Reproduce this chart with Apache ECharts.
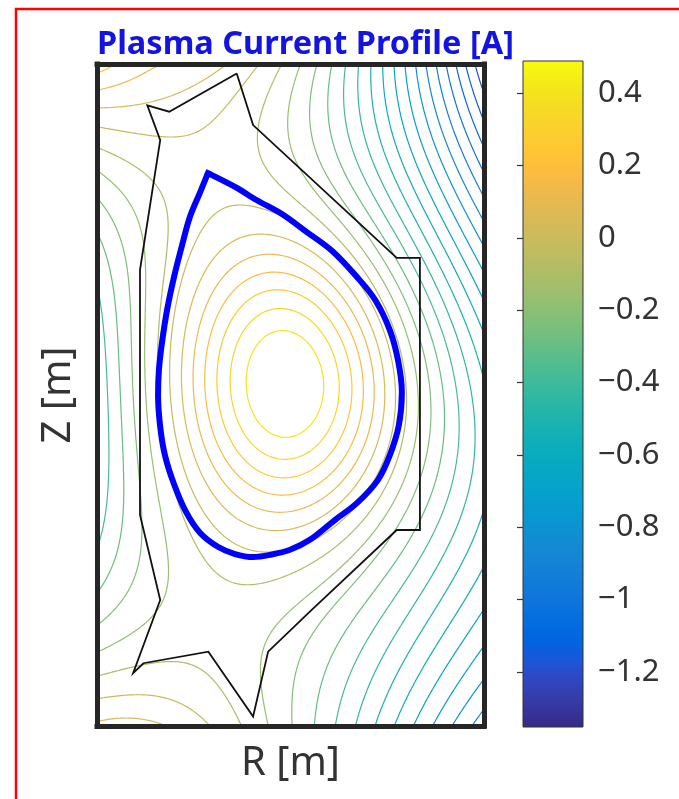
<!DOCTYPE html>
<html><head><meta charset="utf-8">
<script src="https://cdn.jsdelivr.net/npm/echarts@6/dist/echarts.min.js"></script>
<style>html,body{margin:0;padding:0;background:#fff;}#c{width:679px;height:799px;}</style>
</head><body><div id="c"></div>
<script>
// ================= values =================
const titleText = 'Plasma Current Profile [A]';
const xAxisName = 'R [m]';
const yAxisName = 'Z [m]';
const rRange = [0.1, 1.0];
const zRange = [-0.77, 0.77];
const colorbarMin = -1.352;
const colorbarMax = 0.489;
const colorbarTicks = [-1.2, -1, -0.8, -0.6, -0.4, -0.2, 0, 0.2, 0.4];
const contourLevels = [-1.28, -1.21, -1.14, -1.07, -1.00, -0.93, -0.86, -0.79, -0.72, -0.65,
  -0.58, -0.51, -0.44, -0.37, -0.30, -0.23, -0.16, -0.09, -0.02, 0.05, 0.12, 0.19, 0.26, 0.33, 0.40];

// vessel wall (black outline)
const vesselR = [0.425, 0.463, 0.797, 0.851, 0.851, 0.797, 0.595, 0.498, 0.463, 0.359, 0.208, 0.184, 0.247, 0.200, 0.200, 0.247, 0.217, 0.268, 0.425];
const vesselZ = [0.748, 0.628, 0.319, 0.319, -0.314, -0.314, -0.504, -0.597, -0.748, -0.597, -0.624, -0.647, -0.477, -0.279, 0.291, 0.593, 0.674, 0.659, 0.748];

// plasma boundary (blue)
const boundaryR = [0.358, 0.421, 0.472, 0.530, 0.588, 0.647, 0.705, 0.747, 0.781, 0.800, 0.809, 0.802, 0.781, 0.753, 0.705, 0.653, 0.595, 0.549, 0.502, 0.463, 0.421, 0.381, 0.340, 0.307, 0.279, 0.258, 0.247, 0.242, 0.244, 0.251, 0.263, 0.279, 0.298, 0.316, 0.340, 0.358];
const boundaryZ = [0.516, 0.484, 0.453, 0.421, 0.379, 0.335, 0.274, 0.221, 0.151, 0.081, 0.007, -0.070, -0.140, -0.198, -0.251, -0.291, -0.337, -0.360, -0.372, -0.377, -0.370, -0.353, -0.321, -0.272, -0.207, -0.140, -0.074, 0.000, 0.058, 0.121, 0.198, 0.274, 0.349, 0.414, 0.472, 0.516];
const boundaryValue = -0.055;

// field readings (value at points, from contour counting and colours)
const oPoint = [0.552, 0.022, 0.489];        // R, Z, value at magnetic axis
const xPoint = [0.358, 0.516];               // saddle point
const topEdgeR   = [0.305, 0.386, 0.449, 0.495, 0.542, 0.579, 0.619, 0.653, 0.684, 0.716, 0.747, 0.774, 0.800, 0.828, 0.851, 0.874, 0.898, 0.921, 0.940, 0.960, 0.979, 0.995, 1.000];
const topEdgeVal = [0.19, 0.12, 0.05, -0.02, -0.09, -0.16, -0.23, -0.30, -0.37, -0.44, -0.51, -0.58, -0.65, -0.72, -0.79, -0.86, -0.93, -1.00, -1.07, -1.14, -1.21, -1.28, -1.352];
const bottomEdgeR   = [0.177, 0.333, 0.433, 0.509, 0.579, 0.635, 0.684, 0.730, 0.774, 0.812, 0.847, 0.886, 0.921, 0.956, 0.991];
const bottomEdgeVal = [0.05, -0.02, -0.09, -0.16, -0.23, -0.30, -0.37, -0.44, -0.51, -0.58, -0.65, -0.72, -0.79, -0.86, -0.93];
const leftEdgeZ   = [0.740, 0.644, 0.570, 0.0, -0.644, -0.740];
const leftEdgeVal = [0.19, 0.12, 0.05, -0.27, -0.02, 0.05];
const midlineR   = [0.142, 0.184, 0.223, 0.281, 0.301, 0.324, 0.351, 0.386, 0.425, 0.467, 0.637, 0.672, 0.705, 0.728, 0.751, 0.770, 0.786, 0.823, 0.840, 0.905, 0.974, 1.000];
const midlineVal = [-0.23, -0.16, -0.09, -0.02, 0.05, 0.12, 0.19, 0.26, 0.33, 0.40, 0.40, 0.33, 0.26, 0.19, 0.12, 0.05, -0.02, -0.09, -0.16, -0.37, -0.58, -0.68];
const axisVerticalZ   = [0.133, -0.088];
const axisVerticalVal = [0.40, 0.40];

// model sources: external coils and plasma current region
const coilR = [0.20, 0.07];
const coilZ = [0.95, -0.80];
const plasmaCentre = [0.55, 0.03];
const plasmaHalfWidth = 0.28;
const plasmaHalfHeight = 0.42;
const plasmaPeaking = 1.6;

// ================= colormap (MATLAB parula, 64 entries) =================
const parula = [[0.2081,0.1663,0.5292],[0.2116,0.1898,0.5777],[0.2123,0.2138,0.627],[0.2081,0.2386,0.6771],[0.1959,0.2645,0.7279],[0.1707,0.2919,0.7792],[0.1253,0.3242,0.8303],[0.0591,0.3598,0.8683],[0.0117,0.3875,0.882],[0.006,0.4086,0.8828],[0.0165,0.4266,0.8786],[0.0329,0.443,0.872],[0.0498,0.4586,0.8641],[0.0629,0.4737,0.8554],[0.0723,0.4887,0.8467],[0.0779,0.504,0.8384],[0.0793,0.52,0.8312],[0.0749,0.5375,0.8263],[0.0641,0.557,0.824],[0.0488,0.5772,0.8228],[0.0343,0.5966,0.8199],[0.0265,0.6137,0.8135],[0.0239,0.6287,0.8038],[0.0231,0.6418,0.7913],[0.0228,0.6535,0.7768],[0.0267,0.6642,0.7607],[0.0384,0.6743,0.7436],[0.059,0.6838,0.7254],[0.0843,0.6928,0.7062],[0.1133,0.7015,0.6859],[0.1453,0.7098,0.6646],[0.1801,0.7177,0.6424],[0.2178,0.725,0.6193],[0.2586,0.7317,0.5954],[0.3022,0.7376,0.5712],[0.3482,0.7424,0.5473],[0.3953,0.7459,0.5244],[0.442,0.7481,0.5033],[0.4871,0.7491,0.484],[0.53,0.7491,0.4661],[0.5709,0.7485,0.4494],[0.6099,0.7473,0.4337],[0.6473,0.7456,0.4188],[0.6834,0.7435,0.4044],[0.7184,0.7411,0.3905],[0.7525,0.7384,0.3768],[0.7858,0.7356,0.3633],[0.8185,0.7327,0.3498],[0.8507,0.7299,0.336],[0.8824,0.7274,0.3217],[0.9139,0.7258,0.3063],[0.945,0.7261,0.2886],[0.9739,0.7314,0.2666],[0.9938,0.7455,0.2403],[0.999,0.7653,0.2164],[0.9955,0.7861,0.1967],[0.988,0.8066,0.1794],[0.9789,0.8271,0.1633],[0.9697,0.8481,0.1475],[0.9626,0.8705,0.1309],[0.9589,0.8949,0.1132],[0.9598,0.9218,0.0948],[0.9661,0.9514,0.0755],[0.9763,0.9831,0.0538]];
function rgb(c){return 'rgb('+Math.round(c[0]*255)+','+Math.round(c[1]*255)+','+Math.round(c[2]*255)+')';}
function colorOf(v){
  let t=(v-colorbarMin)/(colorbarMax-colorbarMin); t=Math.max(0,Math.min(1,t));
  const f=t*63, i=Math.min(62,Math.floor(f)), u=f-i, a=parula[i], b=parula[i+1];
  return rgb([a[0]+(b[0]-a[0])*u, a[1]+(b[1]-a[1])*u, a[2]+(b[2]-a[2])*u]);
}

// ================= field model fitted to the readings =================
const X0 = 0.55;
const fil = [];
(function(){
  const h=0.02;
  for(let R=plasmaCentre[0]-plasmaHalfWidth; R<=plasmaCentre[0]+plasmaHalfWidth+1e-9; R+=h)
    for(let Z=plasmaCentre[1]-plasmaHalfHeight; Z<=plasmaCentre[1]+plasmaHalfHeight+1e-9; Z+=h){
      const r2=((R-plasmaCentre[0])/plasmaHalfWidth)**2+((Z-plasmaCentre[1])/plasmaHalfHeight)**2;
      if(r2<1) fil.push([R,Z,Math.pow(1-r2,plasmaPeaking)]);
    }
  let s=0; fil.forEach(f=>s+=f[2]); fil.forEach(f=>f[2]/=s);
})();
const EPS2 = 0.0001;
const NF = fil.length, fR=new Float64Array(NF), fZ=new Float64Array(NF), fW=new Float64Array(NF);
fil.forEach((f,i)=>{fR[i]=f[0];fZ[i]=f[1];fW[i]=f[2];});
function plasmaAt(R,Z){let s=0;for(let i=0;i<NF;i++){const dr=R-fR[i],dz=Z-fZ[i];s+=fW[i]*Math.log(dr*dr+dz*dz+EPS2);}return -0.5*s;}
function coilAt(k,R,Z){const dr=R-coilR[k],dz=Z-coilZ[k];return -0.5*Math.log(dr*dr+dz*dz);}
function polyBasis(R,Z){const x=R-X0,y=Z;return [1,x,y,x*x-y*y,2*x*y,x*x*x-3*x*y*y,3*x*x*y-y*y*y];}
function basisAt(R,Z){const b=polyBasis(R,Z);b.push(plasmaAt(R,Z));for(let k=0;k<coilR.length;k++)b.push(coilAt(k,R,Z));return b;}
const NB = 7+1+coilR.length;

const rows=[], rhs=[];
function addVal(R,Z,v,w){rows.push(basisAt(R,Z).map(q=>q*w));rhs.push(v*w);}
function addGrad(R,Z,w){const h=1e-4;
  const a=basisAt(R+h,Z),b=basisAt(R-h,Z),c=basisAt(R,Z+h),d=basisAt(R,Z-h);
  rows.push(a.map((q,i)=>(q-b[i])/(2*h)*w));rhs.push(0);
  rows.push(c.map((q,i)=>(q-d[i])/(2*h)*w));rhs.push(0);}
addVal(oPoint[0],oPoint[1],oPoint[2],8); addGrad(oPoint[0],oPoint[1],2);
addVal(xPoint[0],xPoint[1],boundaryValue,4); addGrad(xPoint[0],xPoint[1],1.5);
for(let i=0;i<boundaryR.length-1;i++) addVal(boundaryR[i],boundaryZ[i],boundaryValue,2.5);
topEdgeR.forEach((r,i)=>addVal(r,zRange[1],topEdgeVal[i],1));
bottomEdgeR.forEach((r,i)=>addVal(r,zRange[0],bottomEdgeVal[i],1));
leftEdgeZ.forEach((z,i)=>addVal(rRange[0],z,leftEdgeVal[i],1));
midlineR.forEach((r,i)=>addVal(r,oPoint[1],midlineVal[i],1.5));
axisVerticalZ.forEach((z,i)=>addVal(oPoint[0],z,axisVerticalVal[i],1.5));

function solve(rows,rhs,n,ridge){
  const A=[];for(let i=0;i<n;i++)A.push(new Float64Array(n+1));
  rows.forEach((a,r)=>{for(let i=0;i<n;i++){for(let j=0;j<n;j++)A[i][j]+=a[i]*a[j];A[i][n]+=a[i]*rhs[r];}});
  for(let i=0;i<n;i++)A[i][i]+=ridge;
  for(let c=0;c<n;c++){let p=c;for(let r=c+1;r<n;r++)if(Math.abs(A[r][c])>Math.abs(A[p][c]))p=r;
    const t=A[c];A[c]=A[p];A[p]=t;
    for(let r=0;r<n;r++){if(r===c)continue;const f=A[r][c]/A[c][c];for(let k=c;k<=n;k++)A[r][k]-=f*A[c][k];}}
  return A.map((row,i)=>row[n]/row[i]);
}
const coef = solve(rows,rhs,NB,1e-5);

// grid evaluation
const STEP=0.005;
const NX=Math.round((rRange[1]-rRange[0])/STEP)+1, NZ=Math.round((zRange[1]-zRange[0])/STEP)+1;
const DR=(rRange[1]-rRange[0])/(NX-1), DZ=(zRange[1]-zRange[0])/(NZ-1);
const F=new Float64Array(NX*NZ);
for(let j=0;j<NZ;j++){const Z=zRange[0]+j*DZ;
  for(let i=0;i<NX;i++){const R=rRange[0]+i*DR;
    const p=polyBasis(R,Z);let v=0;for(let k=0;k<7;k++)v+=coef[k]*p[k];
    v+=coef[7]*plasmaAt(R,Z);
    for(let k=0;k<coilR.length;k++)v+=coef[8+k]*coilAt(k,R,Z);
    F[j*NX+i]=v;}}

// marching squares + chaining
function contour(L){
  const adj=new Map();
  function link(a,b){if(!adj.has(a))adj.set(a,[]);if(!adj.has(b))adj.set(b,[]);adj.get(a).push(b);adj.get(b).push(a);}
  const H=(i,j)=>2*(j*NX+i), V=(i,j)=>2*(j*NX+i)+1;
  for(let j=0;j<NZ-1;j++)for(let i=0;i<NX-1;i++){
    const v0=F[j*NX+i],v1=F[j*NX+i+1],v2=F[(j+1)*NX+i+1],v3=F[(j+1)*NX+i];
    const c=(v0>L?1:0)|(v1>L?2:0)|(v2>L?4:0)|(v3>L?8:0);
    if(c===0||c===15)continue;
    const B=H(i,j),T=H(i,j+1),Lf=V(i,j),Rt=V(i+1,j);
    const e=[];
    if((c&1)!==((c&2)>>1))e.push(B);
    if(((c&2)>>1)!==((c&4)>>2))e.push(Rt);
    if(((c&4)>>2)!==((c&8)>>3))e.push(T);
    if(((c&8)>>3)!==(c&1))e.push(Lf);
    if(e.length===2){link(e[0],e[1]);}
    else{const ctr=(v0+v1+v2+v3)/4>L;
      if(c===5){if(ctr){link(B,Rt);link(T,Lf);}else{link(Lf,B);link(Rt,T);}}
      else{if(ctr){link(Lf,B);link(Rt,T);}else{link(B,Rt);link(T,Lf);}}}
  }
  function pos(id){const k=id>>1,i=k%NX,j=(k-i)/NX;
    if((id&1)===0){const a=F[j*NX+i],b=F[j*NX+i+1],t=(L-a)/(b-a);return [rRange[0]+(i+t)*DR,zRange[0]+j*DZ];}
    const a=F[j*NX+i],b=F[(j+1)*NX+i],t=(L-a)/(b-a);return [rRange[0]+i*DR,zRange[0]+(j+t)*DZ];}
  const seen=new Set(),out=[];
  function walk(s){const pts=[pos(s)];seen.add(s);let prev=-1,cur=s;
    while(true){const nb=adj.get(cur);let nx=-1;for(const q of nb){if(q!==prev&&!seen.has(q)){nx=q;break;}}
      if(nx<0){if(nb.includes(s)&&pts.length>2&&cur!==s)pts.push(pos(s));break;}
      pts.push(pos(nx));seen.add(nx);prev=cur;cur=nx;}
    return pts;}
  adj.forEach((nb,id)=>{if(nb.length===1&&!seen.has(id))out.push(walk(id));});
  adj.forEach((nb,id)=>{if(!seen.has(id))out.push(walk(id));});
  return out;
}
const contourData=[];
contourLevels.forEach(L=>{const col=colorOf(L);contour(L).forEach(p=>{if(p.length>1)contourData.push({coords:p,lineStyle:{color:col}});});});

// ================= chart =================
const vesselData = vesselR.map((r,i)=>[r,vesselZ[i]]);
const boundaryData = boundaryR.map((r,i)=>[r,boundaryZ[i]]);
const stops=[];for(let k=0;k<64;k++)stops.push({offset:k/63,color:rgb(parula[63-k])});
const frameLine={show:true,onZero:false,lineStyle:{color:'#262626',width:5,cap:'square'}};
const FONT='Noto Sans';
const fmt=v=>{const s=String(Math.round(v*10)/10);return s.replace('-','\u2212');};

const chart=echarts.init(document.getElementById('c'),null,{renderer:'canvas'});
chart.setOption({
  animation:false,
  backgroundColor:'#ffffff',
  title:{text:titleText,left:92,top:23,textStyle:{color:'#1414e0',fontSize:32.5,fontWeight:'bold',fontFamily:FONT}},
  graphic:[{type:'rect',silent:true,z:100,shape:{x:16,y:9,width:720,height:840},style:{fill:'none',stroke:'#ff0000',lineWidth:2.5}}],
  grid:[{left:97,top:64,width:387,height:662},{left:523,top:61,width:60,height:666}],
  xAxis:[
    {type:'value',gridIndex:0,min:rRange[0],max:rRange[1],position:'bottom',z:10,axisLine:frameLine,axisTick:{show:false},axisLabel:{show:false},splitLine:{show:false},
     name:xAxisName,nameLocation:'middle',nameGap:18,nameTextStyle:{fontSize:40,color:'#333',fontFamily:FONT}},
    {type:'value',gridIndex:0,min:rRange[0],max:rRange[1],position:'top',z:10,axisLine:frameLine,axisTick:{show:false},axisLabel:{show:false},splitLine:{show:false}},
    {type:'value',gridIndex:1,min:0,max:1,show:false}
  ],
  yAxis:[
    {type:'value',gridIndex:0,min:zRange[0],max:zRange[1],position:'left',z:10,axisLine:frameLine,axisTick:{show:false},axisLabel:{show:false},splitLine:{show:false},
     name:yAxisName,nameLocation:'middle',nameGap:18,nameTextStyle:{fontSize:40,color:'#333',fontFamily:FONT}},
    {type:'value',gridIndex:0,min:zRange[0],max:zRange[1],position:'right',z:10,axisLine:frameLine,axisTick:{show:false},axisLabel:{show:false},splitLine:{show:false}},
    {type:'value',gridIndex:1,min:colorbarMin,max:colorbarMax,position:'right',z:10,
     axisLine:{show:false},splitLine:{show:false},
     axisTick:{show:true,inside:true,length:6,lineStyle:{color:'#333',width:1.2},customValues:colorbarTicks},
     axisLabel:{show:true,customValues:colorbarTicks,formatter:fmt,margin:15,fontSize:31,color:'#333',fontFamily:FONT}}
  ],
  series:[
    {type:'lines',coordinateSystem:'cartesian2d',xAxisIndex:0,yAxisIndex:0,polyline:true,silent:true,z:2,
     lineStyle:{width:1.2,opacity:1},data:contourData},
    {type:'line',xAxisIndex:0,yAxisIndex:0,data:vesselData,showSymbol:false,symbol:'none',silent:true,z:4,
     lineStyle:{color:'#111',width:1.8,join:'miter'}},
    {type:'line',xAxisIndex:0,yAxisIndex:0,data:boundaryData,showSymbol:false,symbol:'none',silent:true,z:5,smooth:0.35,
     lineStyle:{color:'#0000ff',width:6,join:'miter',miterLimit:10,cap:'square'}},
    {type:'custom',xAxisIndex:2,yAxisIndex:2,silent:true,data:[[0,colorbarMin,1,colorbarMax]],encode:{x:[0,2],y:[1,3]},
     renderItem:function(params,api){const a=api.coord([api.value(0),api.value(3)]),b=api.coord([api.value(2),api.value(1)]);
       return {type:'rect',shape:{x:a[0],y:a[1],width:b[0]-a[0],height:b[1]-a[1]},
         style:{fill:new echarts.graphic.LinearGradient(0,0,0,1,stops),stroke:'#333',lineWidth:1}};}}
  ]
});
</script></body></html>
